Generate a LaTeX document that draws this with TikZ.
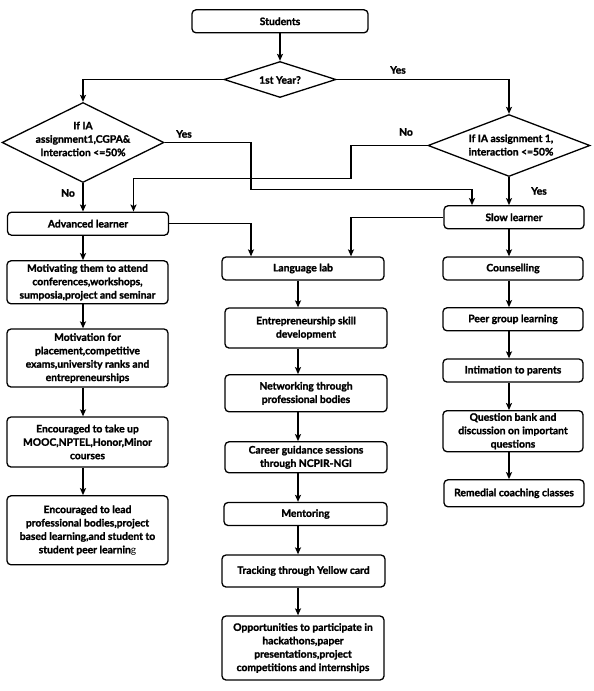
\documentclass[tikz,border=0pt]{standalone}
\usepackage{fontspec}
\setmainfont{Lato}[BoldFeatures={FakeBold=1.6}]
\usetikzlibrary{shapes.geometric,arrows.meta}
\begin{document}
\begin{tikzpicture}[x=1pt,y=-1pt,
  every node/.style={font=\fontsize{10.3}{13.4}\selectfont\bfseries},
  box/.style={draw,line width=1.3pt,rounded corners=4pt,inner sep=0pt,align=center},
  dia/.style={draw,line width=1.3pt,diamond,inner sep=0pt},
  lbl/.style={inner sep=0pt},
  ln/.style={line width=1.5pt},
  arr/.style={line width=1.5pt,-{Stealth[length=7pt,width=6pt,inset=1.5pt]}}]
\useasboundingbox (0,0) rectangle (594,691);
% top
\node[box,minimum width=176,minimum height=23] (stu) at (280,21.3) {Students};
\node[dia,minimum width=112,minimum height=36] (d1) at (280,79.5) {};
\node[lbl] at (280,80) {1st Year?};
\node[dia,minimum width=162,minimum height=80] (d2) at (83,142.5) {};
\node[lbl,align=center] at (83,139) {If IA\\assignment1,CGPA\&\\Interaction <=50\%};
\node[dia,minimum width=162,minimum height=62] (d3) at (509,145.5) {};
\node[lbl,align=center] at (511,145) {If IA assignment 1,\\interaction <=50\%};
% labels
\node[lbl] at (398,70) {Yes};
\node[lbl] at (184,134) {Yes};
\node[lbl] at (406,132) {No};
\node[lbl] at (68,193) {No};
\node[lbl] at (539,191) {Yes};
% left column
\node[box,minimum width=161,minimum height=23] (adv) at (88,223.7) {Advanced learner};
\node[box,minimum width=161,minimum height=43] (m1) at (87.5,282.3) {Motivating them to attend\\conferences,workshops,\\sumposia,project and seminar};
\node[box,minimum width=161,minimum height=58] (m2) at (87.5,358) {Motivation for\\placement,competitive\\exams,university ranks and\\entrepreneurships};
\node[box,minimum width=161,minimum height=50] (m3) at (87.5,442) {Encouraged to take up\\MOOC,NPTEL,Honor,Minor\\courses};
\node[box,minimum width=161,minimum height=69] (m4) at (87.5,530.3) {Encouraged to lead\\professional bodies,project\\based learning,and student to\\student peer learnin{\mdseries g}};
% middle column
\node[box,minimum width=162,minimum height=23] (lang) at (303,268.5) {Language lab};
\node[box,minimum width=162,minimum height=40] (e1) at (306,328) {Entrepreneurship skill\\development};
\node[box,minimum width=162,minimum height=37] (e2) at (306,393.3) {Networking through\\professional bodies};
\node[box,minimum width=162,minimum height=31] (e3) at (306,457.3) {Career guidance sessions\\through NCPIR-NGI};
\node[box,minimum width=163,minimum height=23] (e4) at (305.5,514) {Mentoring};
\node[box,minimum width=163,minimum height=32] (e5) at (303.5,571) {Tracking through Yellow card};
\node[box,minimum width=162,minimum height=64] (e6) at (303,648) {Opportunities to participate in\\hackathons,paper\\presentations,project\\competitions and internships};
% right column
\node[box,minimum width=140,minimum height=23] (slow) at (514,217.3) {Slow learner};
\node[box,minimum width=140,minimum height=23] (r1) at (513,268.5) {Counselling};
\node[box,minimum width=140,minimum height=23] (r2) at (513,319.3) {Peer group learning};
\node[box,minimum width=140,minimum height=23] (r3) at (513,370.5) {Intimation to parents};
\node[box,minimum width=140,minimum height=41] (r4) at (513,431.2) {Question bank and\\discussion on important\\questions};
\node[box,minimum width=140,minimum height=27] (r5) at (514,493.3) {Remedial coaching classes};
% helper coordinates
\coordinate (lx) at (83,0);
\coordinate (mx) at (298,0);
\coordinate (rx) at (509,0);
\coordinate (j1) at (251,189.3);
\coordinate (j2) at (351,178.3);
% connectors
\draw[arr] (stu) -- (d1);
\draw[arr] (d1.west) -| (d2.north);
\draw[arr] (d1.east) -| (d3.north);
\draw[arr] (d2.east) -| (j1) -| ([xshift=-42pt]slow.north);
\draw[arr] (d3.west) -| (j2) -| ([xshift=45.5pt]adv.north);
\draw[arr] (d2.south) -- (d2.south |- adv.north);
\draw[arr] (d3.south) -- (d3.south |- slow.north);
\draw[arr] (adv.east) -| ([xshift=-52pt]lang.north);
\draw[arr] (slow.west) -| ([xshift=48pt]lang.north);
\draw[arr] (adv.south -| lx) -- (m1.north -| lx);
\draw[arr] (m1.south -| lx) -- (m2.north -| lx);
\draw[arr] (m2.south -| lx) -- (m3.north -| lx);
\draw[arr] (m3.south -| lx) -- (m4.north -| lx);
\draw[arr] (lang.south -| mx) -- (e1.north -| mx);
\draw[arr] (e1.south -| mx) -- (e2.north -| mx);
\draw[arr] (e2.south -| mx) -- (e3.north -| mx);
\draw[arr] (e3.south -| mx) -- (e4.north -| mx);
\draw[arr] (e4.south -| mx) -- (e5.north -| mx);
\draw[arr] (e5.south -| mx) -- (e6.north -| mx);
\draw[arr] (slow.south -| rx) -- (r1.north -| rx);
\draw[arr] (r1.south -| rx) -- (r2.north -| rx);
\draw[arr] (r2.south -| rx) -- (r3.north -| rx);
\draw[arr] (r3.south -| rx) -- (r4.north -| rx);
\draw[arr] (r4.south -| rx) -- (r5.north -| rx);
\end{tikzpicture}
\end{document}
